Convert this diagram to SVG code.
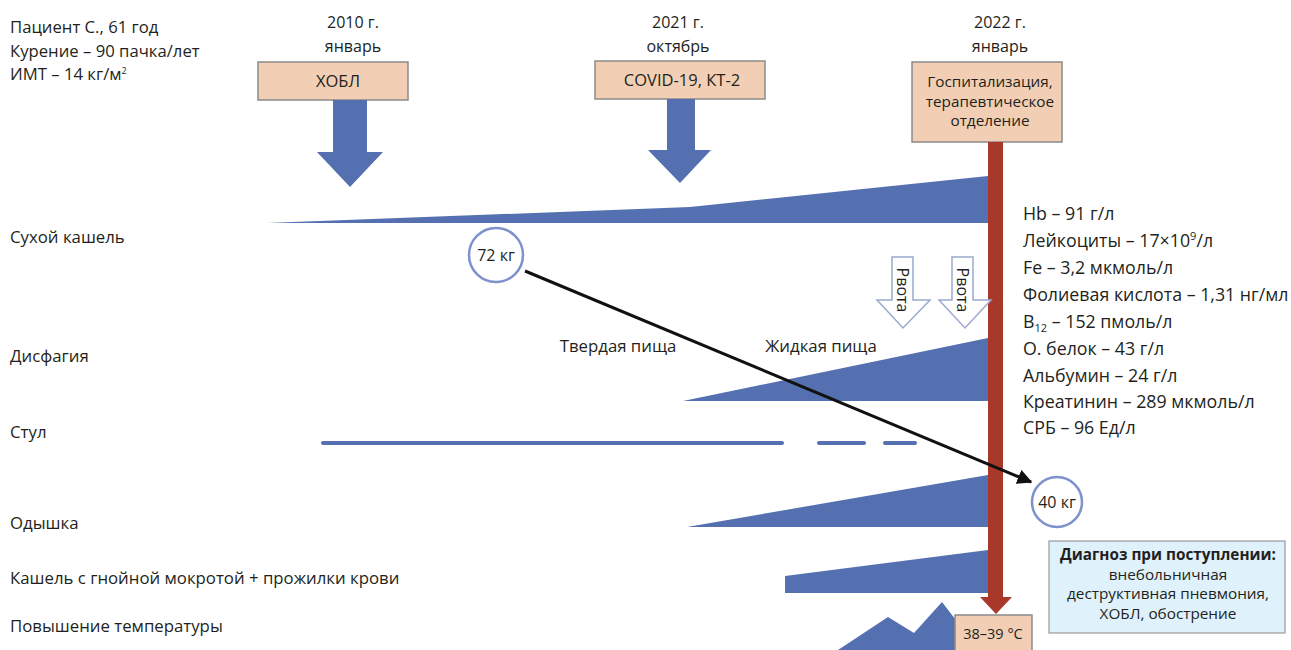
<svg xmlns="http://www.w3.org/2000/svg" width="1291" height="650" viewBox="0 0 1291 650">
<style>
text{font-family:"Open Sans","Noto Sans","Liberation Sans",sans-serif;fill:#231f20}
.lbl{font-size:16.8px}
.hd{font-size:16px;text-anchor:middle}
.bx{font-size:16.5px;text-anchor:middle}
.bx2{font-size:15.3px;text-anchor:middle}
.pt{font-size:16.7px}
.lab{font-size:17.8px}
.dg{font-size:15.3px;text-anchor:middle}
.box{fill:#f2cfb4;stroke:#8a8a8a;stroke-width:1.5}
.blue{fill:#5570b0}
.circ{fill:#fff;stroke:#7d92cc;stroke-width:2.5}
.vom{fill:#fff;stroke:#9aa9cf;stroke-width:1.5}
</style>
<defs>
<marker id="ah" viewBox="0 0 10 10" refX="9" refY="5" markerWidth="5" markerHeight="5" orient="auto" markerUnits="strokeWidth">
<path d="M0,0 L10,5 L0,10 z" fill="#111"/>
</marker>
</defs>
<rect width="1291" height="650" fill="#fff"/>

<g id="patient">
<text class="pt" x="10" y="33">Пациент С., 61 год</text>
<text class="pt" x="10" y="57">Курение – 90 пачка/лет</text>
<text class="pt" x="10" y="80">ИМТ – 14 кг/м<tspan font-size="9" dy="-6">2</tspan></text>
</g>

<g id="row-labels">
<text class="lbl" x="10" y="243">Сухой кашель</text>
<text class="lbl" x="10" y="362">Дисфагия</text>
<text class="lbl" x="10" y="438">Стул</text>
<text class="lbl" x="10" y="529">Одышка</text>
<text class="lbl" x="10" y="584">Кашель с гнойной мокротой + прожилки крови</text>
<text class="lbl" x="10" y="632">Повышение температуры</text>
</g>

<g id="event-2010">
<text class="hd" x="353" y="28">2010 г.</text>
<text class="hd" x="353" y="52">январь</text>
<rect class="box" x="258" y="62" width="150" height="38"/>
<text class="bx" x="338" y="87">ХОБЛ</text>
<polygon class="blue" points="333,100 367,100 367,152 383,152 350,187 317,152 333,152"/>
</g>

<g id="event-2021">
<text class="hd" x="678" y="28">2021 г.</text>
<text class="hd" x="678" y="52">октябрь</text>
<rect class="box" x="595" y="61" width="170" height="38"/>
<text class="bx" x="682" y="86">COVID-19, КТ-2</text>
<polygon class="blue" points="667,99 695,99 695,150 711,150 680,183 648,150 667,150"/>
</g>

<g id="event-2022">
<text class="hd" x="1000" y="28">2022 г.</text>
<text class="hd" x="1000" y="52">январь</text>
<rect class="box" x="912" y="62" width="150" height="80"/>
<text class="bx2" x="990" y="87">Госпитализация,</text>
<text class="bx2" x="990" y="106.5">терапевтическое</text>
<text class="bx2" x="990" y="126">отделение</text>
</g>

<g id="symptoms">
<polygon class="blue" points="267,223 690,207 988,176 988,223"/>
<polygon class="blue" points="683,401 988,338 988,401"/>
<g stroke="#5570b0" stroke-width="4" stroke-linecap="round">
<line x1="323" y1="443" x2="782" y2="443"/>
<line x1="819" y1="443" x2="864" y2="443"/>
<line x1="885" y1="443" x2="915" y2="443"/>
</g>
<polygon class="blue" points="687,527 988,475 988,527"/>
<polygon class="blue" points="785,576 988,550 988,593 785,593"/>
<polygon class="blue" points="838,650 888,617 914,633 942,602 962,628 962,650"/>
</g>

<g id="timeline-bar">
<rect x="988" y="142" width="15" height="456" fill="#a8382a"/>
<polygon points="980,597 1012,597 996,614" fill="#a8382a"/>
</g>

<g id="vomit-1">
<polygon class="vom" points="892,257 913,257 913,300 930,300 903,328 877,300 892,300"/>
<text font-size="16" text-anchor="middle" transform="translate(897,290) rotate(90)">Рвота</text>
</g>
<g id="vomit-2">
<polygon class="vom" points="952,257 973,257 973,300 991,300 965,328 939,300 952,300"/>
<text font-size="16" text-anchor="middle" transform="translate(957,290) rotate(90)">Рвота</text>
</g>

<g id="food-labels">
<text class="lbl" x="618" y="352" text-anchor="middle">Твердая пища</text>
<text class="lbl" x="821" y="352" text-anchor="middle">Жидкая пища</text>
</g>

<g id="connectors">
<line x1="525" y1="271" x2="1031" y2="482" stroke="#111" stroke-width="3" marker-end="url(#ah)"/>
</g>

<g id="weight-72">
<circle class="circ" cx="496" cy="255" r="27"/>
<text x="496" y="261" font-size="16" text-anchor="middle">72 кг</text>
</g>
<g id="weight-40">
<circle class="circ" cx="1057" cy="502" r="25"/>
<text x="1057" y="508" font-size="16" text-anchor="middle">40 кг</text>
</g>

<g id="labs">
<text class="lab" x="1023" y="220">Hb – 91 г/л</text>
<text class="lab" x="1023" y="247">Лейкоциты – 17×10<tspan font-size="11" dy="-7">9</tspan><tspan dy="7">/л</tspan></text>
<text class="lab" x="1023" y="274">Fe – 3,2 мкмоль/л</text>
<text class="lab" x="1023" y="301">Фолиевая кислота – 1,31 нг/мл</text>
<text class="lab" x="1023" y="328">B<tspan font-size="11" dy="4">12</tspan><tspan dy="-4"> – 152 пмоль/л</tspan></text>
<text class="lab" x="1023" y="355">О. белок – 43 г/л</text>
<text class="lab" x="1023" y="382">Альбумин – 24 г/л</text>
<text class="lab" x="1023" y="408">Креатинин – 289 мкмоль/л</text>
<text class="lab" x="1023" y="434">СРБ – 96 Ед/л</text>
</g>

<g id="temp-box">
<rect class="box" x="955" y="615" width="77" height="40"/>
<text x="993" y="639" font-size="14.5" text-anchor="middle">38–39 °C</text>
</g>

<g id="diagnosis">
<rect x="1049" y="541" width="236" height="92" fill="#dff1fa" stroke="#9a9a9a" stroke-width="1.2"/>
<text class="dg" x="1168" y="560" font-weight="bold">Диагноз при поступлении:</text>
<text class="dg" x="1168" y="579.5">внебольничная</text>
<text class="dg" x="1168" y="599">деструктивная пневмония,</text>
<text class="dg" x="1168" y="618.5">ХОБЛ, обострение</text>
</g>
</svg>
